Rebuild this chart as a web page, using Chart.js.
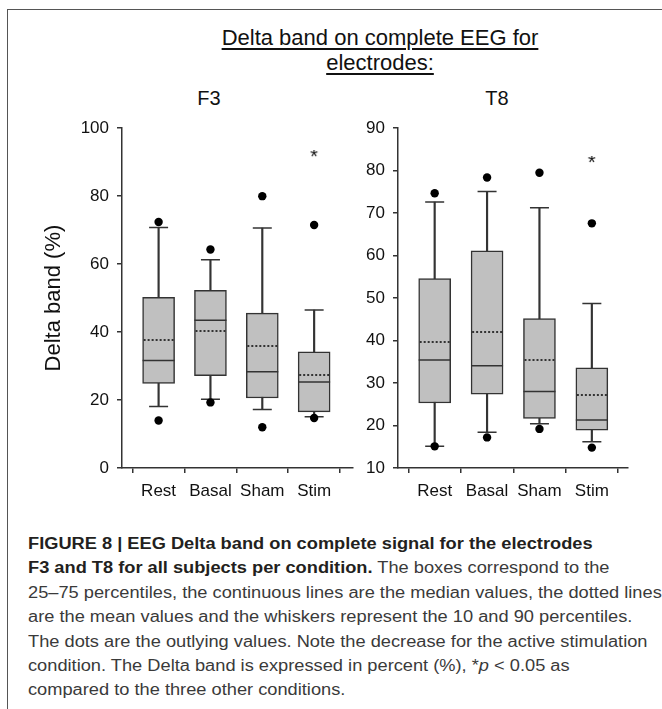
<!DOCTYPE html>
<html>
<head>
<meta charset="utf-8">
<script src="https://cdn.jsdelivr.net/npm/chart.js@4.4.1/dist/chart.umd.min.js"></script>
<style>
  html, body { margin: 0; padding: 0; background: #fff; }
  body { width: 662px; height: 709px; position: relative; overflow: hidden; font-family: "Liberation Sans", Arial, sans-serif; }
  #frame { position: absolute; left: 7px; top: 9px; width: 720px; height: 760px; border: 1.5px solid #555; }
  .title { position: absolute; left: 180px; width: 400px; top: 26px; text-align: center; font-size: 22px; line-height: 24.7px; color: #111; }
  .title span { text-decoration: underline; text-underline-offset: 3px; text-decoration-thickness: 1.5px; }
  .sub { position: absolute; top: 87px; width: 80px; text-align: center; font-size: 20px; color: #111; }
  .box { position: absolute; }
  .caption { position: absolute; left: 28px; top: 532px; font-size: 16px; line-height: 24.4px; color: #3a3a3a; white-space: nowrap;
             transform: scaleX(1.14); transform-origin: 0 0; }
  .caption b { color: #231f20; }
</style>
</head>
<body>
<div id="frame"></div>
<div class="title"><span>Delta band on complete EEG for</span><br><span>electrodes:</span></div>
<div class="sub" style="left:169px">F3</div>
<div class="sub" style="left:457px">T8</div>
<div class="box" style="left:0px;top:110px;width:370px;height:400px"><canvas id="f3Chart"></canvas></div>
<div class="box" style="left:340px;top:110px;width:322px;height:400px"><canvas id="t8Chart"></canvas></div>
<div class="caption">
<b>FIGURE 8 | EEG Delta band on complete signal for the electrodes</b><br>
<b>F3 and T8 for all subjects per condition.</b> The boxes correspond to the<br>
25–75 percentiles, the continuous lines are the median values, the dotted lines<br>
are the mean values and the whiskers represent the 10 and 90 percentiles.<br>
The dots are the outlying values. Note the decrease for the active stimulation<br>
condition. The Delta band is expressed in percent (%), *<i>p</i> &lt; 0.05 as<br>
compared to the three other conditions.
</div>
<script>
const categories = ["Rest", "Basal", "Sham", "Stim"];

// F3 electrode
const f3WhiskerLow = [18.1, 20.2, 17.2, 15.1];
const f3Q1 = [24.9, 27.2, 20.6, 16.5];
const f3Median = [31.6, 43.5, 28.3, 25.3];
const f3Mean = [37.8, 40.4, 35.8, 27.3];
const f3Q3 = [50.2, 52.3, 45.6, 34.2];
const f3WhiskerHigh = [70.8, 61.3, 70.6, 46.5];
const f3OutLow = [14.0, 19.3, 12.0, 14.7];
const f3OutHigh = [72.4, 64.3, 80.0, 71.5];
const f3Star = [null, null, null, 90.6];
const f3Ticks = { min: 0, max: 100, step: 20 };

// T8 electrode
const t8WhiskerLow = [15.1, 18.4, 20.4, 16.2];
const t8Q1 = [25.3, 27.4, 21.7, 18.9];
const t8Median = [35.4, 34.1, 28.0, 21.3];
const t8Mean = [39.7, 42.1, 35.5, 27.1];
const t8Q3 = [54.6, 61.1, 45.2, 33.6];
const t8WhiskerHigh = [72.6, 75.1, 71.3, 48.7];
const t8OutLow = [15.1, 17.2, 19.2, 14.8];
const t8OutHigh = [74.7, 78.4, 79.5, 67.6];
const t8Star = [null, null, null, 81.1];
const t8Ticks = { min: 10, max: 90, step: 10 };

const lineColor = "#333";
const fontFamily = "'Liberation Sans', Arial, sans-serif";

// dotted mean marker and asterisk marker
function dottedLine() {
  const c = document.createElement("canvas");
  c.width = 32; c.height = 2;
  const g = c.getContext("2d");
  g.fillStyle = "#333";
  for (let x = 1; x < 32; x += 4) g.fillRect(x, 0, 2, 2);
  return c;
}
function asterisk() {
  const c = document.createElement("canvas");
  c.width = 20; c.height = 20;
  const g = c.getContext("2d");
  g.fillStyle = "#111";
  g.font = "20px " + fontFamily;
  g.textAlign = "center";
  g.textBaseline = "middle";
  g.fillText("*", 10, 7.5);
  return c;
}
const meanStyle = dottedLine();
const starStyle = asterisk();

const pts = arr => arr.map((v, i) => ({ x: i + 1, y: v })).filter(p => p.y !== null);
const ranges = (a, b) => a.map((v, i) => ({ x: i + 1, y: [v, b[i]] }));

function renderBoxChart(id, d, yt, xRange, yWidth, padRight, showTitle) {
  const ctx = document.getElementById(id);
  new Chart(ctx, {
    type: "bar",
    data: {
      datasets: [
        { data: ranges(d.wLow, d.wHigh), backgroundColor: lineColor, grouped: false,
          barPercentage: 1, categoryPercentage: 1, maxBarThickness: 1.5, order: 6 },
        { data: ranges(d.q1, d.q3), backgroundColor: "#c0c0c0", borderColor: lineColor,
          borderWidth: 1.5, borderSkipped: false, grouped: false,
          barPercentage: 1, categoryPercentage: 1, maxBarThickness: 32, order: 4 },
        { type: "scatter", data: pts(d.wLow).concat(pts(d.wHigh)), pointStyle: "line",
          radius: 9.5, borderWidth: 1.5, borderColor: lineColor, order: 5 },
        { type: "scatter", data: pts(d.median), pointStyle: "line",
          radius: 16, borderWidth: 1.5, borderColor: lineColor, order: 2 },
        { type: "scatter", data: pts(d.mean), pointStyle: meanStyle, order: 1 },
        { type: "scatter", data: pts(d.outLow).concat(pts(d.outHigh)), pointStyle: "circle",
          radius: 4.2, backgroundColor: "#000", borderWidth: 0, order: 0 },
        { type: "scatter", data: pts(d.star), pointStyle: starStyle, order: 0 },
      ],
    },
    options: {
      responsive: true,
      maintainAspectRatio: false,
      animation: false,
      events: [],
      layout: { padding: { top: 12, right: padRight, left: 0, bottom: 0 } },
      plugins: { legend: { display: false }, tooltip: { enabled: false } },
      scales: {
        x: {
          type: "linear",
          min: xRange[0],
          max: xRange[1],
          offset: false,
          afterBuildTicks: s => { s.ticks = categories.map((c, i) => ({ value: i + 1 })); },
          afterFit: s => { s.height = 42; },
          ticks: {
            autoSkip: false, maxRotation: 0, padding: 8, color: "#111",
            font: { size: 17, family: fontFamily },
            callback: v => categories[v - 1],
          },
          grid: { display: true, drawOnChartArea: false, drawTicks: true, tickLength: 5,
                  color: lineColor, lineWidth: 1.5 },
          border: { display: true, color: lineColor, width: 1.5 },
        },
        y: {
          min: yt.min,
          max: yt.max,
          afterFit: s => { s.width = yWidth; },
          ticks: { stepSize: yt.step, padding: 8, color: "#111", font: { size: 17, family: fontFamily } },
          grid: { display: true, drawOnChartArea: false, drawTicks: true, tickLength: 5,
                  color: lineColor, lineWidth: 1.5 },
          border: { display: true, color: lineColor, width: 1.5 },
          title: { display: showTitle, text: "Delta band (%)", color: "#111",
                   font: { size: 22, family: fontFamily }, padding: { top: 41, bottom: 0 } },
        },
      },
    },
  });
}

document.addEventListener("DOMContentLoaded", () => {
  renderBoxChart("f3Chart",
    { wLow: f3WhiskerLow, q1: f3Q1, median: f3Median, mean: f3Mean, q3: f3Q3,
      wHigh: f3WhiskerHigh, outLow: f3OutLow, outHigh: f3OutHigh, star: f3Star },
    f3Ticks, [0.294, 4.74], 122, 15, true);
  renderBoxChart("t8Chart",
    { wLow: t8WhiskerLow, q1: t8Q1, median: t8Median, mean: t8Mean, q3: t8Q3,
      wHigh: t8WhiskerHigh, outLow: t8OutLow, outHigh: t8OutHigh, star: t8Star },
    t8Ticks, [0.30, 4.69], 58, 34, false);
});
</script>
</body>
</html>
